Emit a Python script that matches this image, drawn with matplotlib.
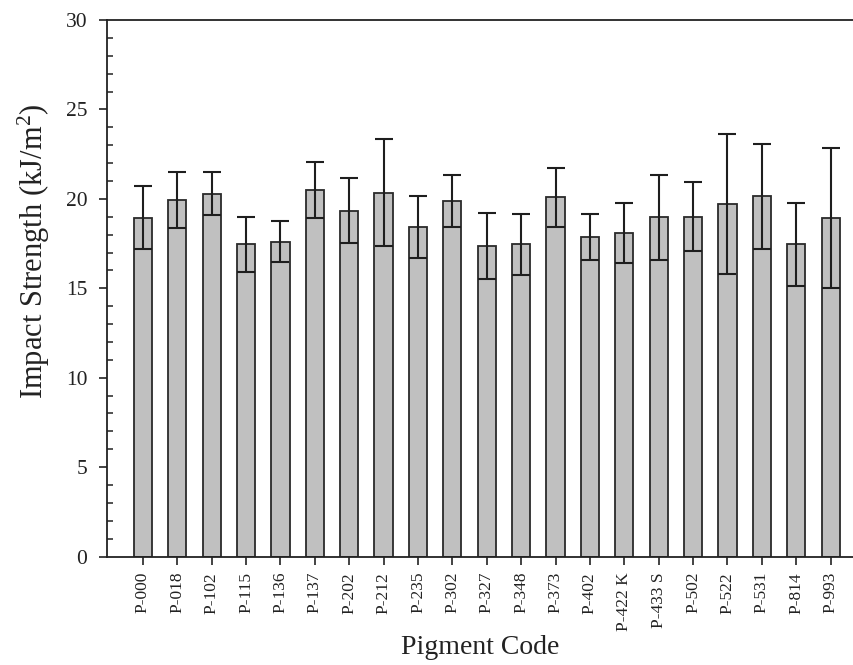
import matplotlib
matplotlib.use("Agg")
import matplotlib.pyplot as plt
from matplotlib.ticker import MultipleLocator
import numpy as np

# pigment codes and impact strength (mean, std dev)
codes = ['P-000', 'P-018', 'P-102', 'P-115', 'P-136', 'P-137', 'P-202',
         'P-212', 'P-235', 'P-302', 'P-327', 'P-348', 'P-373', 'P-402',
         'P-422 K', 'P-433 S', 'P-502', 'P-522', 'P-531', 'P-814', 'P-993']
strength = [18.95, 19.93, 20.28, 17.45, 17.60, 20.50, 19.33, 20.35, 18.45,
            19.88, 17.35, 17.45, 20.08, 17.87, 18.10, 18.97, 19.01, 19.72,
            20.14, 17.47, 18.93]
std_dev = [1.78, 1.55, 1.20, 1.54, 1.14, 1.56, 1.82, 2.98, 1.73, 1.45, 1.84,
           1.69, 1.66, 1.29, 1.66, 2.38, 1.91, 3.91, 2.95, 2.32, 3.91]

plt.rcParams['font.family'] = ['Liberation Serif', 'DejaVu Serif']
plt.rcParams['mathtext.fontset'] = 'custom'
plt.rcParams['mathtext.rm'] = 'Liberation Serif'
plt.rcParams['mathtext.it'] = 'Liberation Serif:italic'

fig = plt.figure(figsize=(8.54, 6.65), dpi=100)
ax = fig.add_axes([0.125, 0.163, 0.875, 0.807])

x = np.arange(len(codes))
ax.bar(x, strength, width=0.53, color='#c0c0c0', edgecolor='#2a2a2a',
       linewidth=1.3, zorder=2)
ax.errorbar(x, strength, yerr=std_dev, fmt='none', ecolor='#1e1e1e',
            elinewidth=1.5, capsize=6.5, capthick=1.5, zorder=3)

ax.set_xlim(-1.05, 20.68)
ax.set_ylim(0, 30)
ax.set_xticks(x)
ax.set_xticklabels(codes, rotation=90, fontsize=12.5)
ax.yaxis.set_major_locator(MultipleLocator(5))
ax.yaxis.set_minor_locator(MultipleLocator(1))

ax.tick_params(axis='y', which='major', direction='out', length=6, width=1.2,
               labelsize=15.5, pad=8, colors='#222222')
ax.tick_params(axis='y', which='minor', direction='in', length=4, width=1.1,
               colors='#222222')
ax.tick_params(axis='x', which='major', direction='out', length=6, width=1.2,
               pad=5, colors='#222222')

for side in ['left', 'bottom', 'top']:
    ax.spines[side].set_linewidth(1.3)
    ax.spines[side].set_color('#222222')
ax.spines['right'].set_visible(False)

ax.set_ylabel('Impact Strength (kJ/m$^2$)', fontsize=22, color='#222222')
ax.yaxis.set_label_coords(-0.073, 0.568)
ax.set_xlabel('Pigment Code', fontsize=20, labelpad=3, color='#222222')

fig.savefig('out.png', dpi=100)
